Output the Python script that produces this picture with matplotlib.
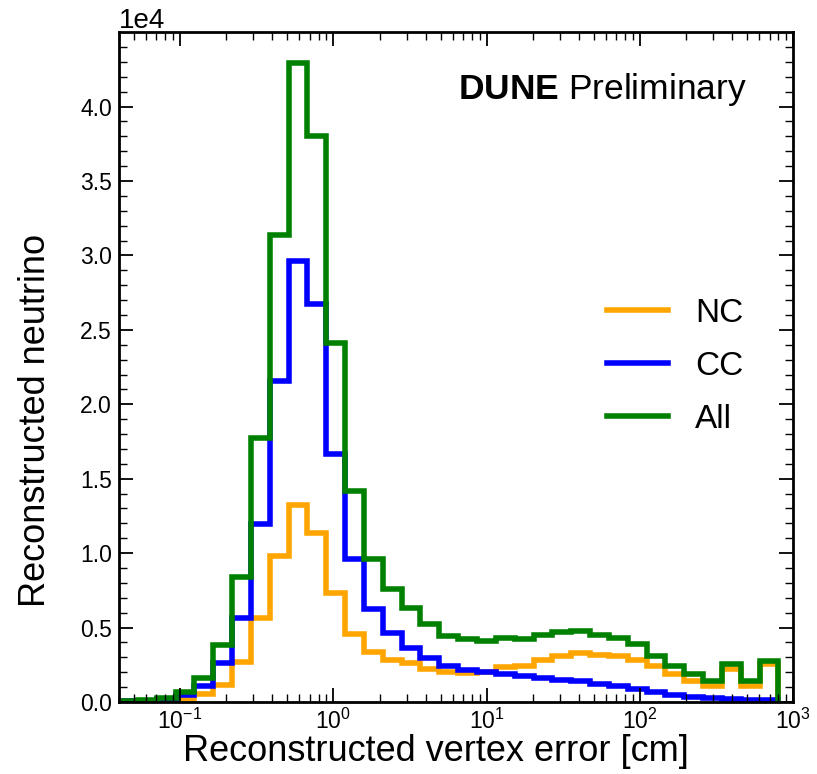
import numpy as np
import matplotlib
matplotlib.use("Agg")
import matplotlib.pyplot as plt
from matplotlib.ticker import AutoMinorLocator

# 35 log-spaced bins from 0.04 cm to 800 cm
bin_lo, bin_hi, n_bins = 0.04, 800.0, 35

# counts per bin, in units of 1e4
nc = [0.003, 0.004, 0.008, 0.02, 0.052, 0.115, 0.27, 0.567, 0.981, 1.326, 1.138, 0.735,
      0.459, 0.334, 0.282, 0.26, 0.22, 0.20, 0.198, 0.20, 0.232, 0.242, 0.285, 0.31,
      0.328, 0.318, 0.31, 0.282, 0.242, 0.19, 0.141, 0.11, 0.22, 0.108, 0.253]
cc = [0.004, 0.006, 0.018, 0.045, 0.107, 0.262, 0.567, 1.198, 2.157, 2.964, 2.673, 1.669,
      0.959, 0.628, 0.466, 0.365, 0.298, 0.242, 0.213, 0.204, 0.19, 0.175, 0.159, 0.15,
      0.138, 0.12, 0.105, 0.088, 0.068, 0.048, 0.035, 0.026, 0.02, 0.016, 0.012]
all_nu = [0.008, 0.012, 0.029, 0.069, 0.159, 0.381, 0.837, 1.772, 3.136, 4.29, 3.80, 2.415,
          1.42, 0.959, 0.757, 0.634, 0.522, 0.444, 0.421, 0.41, 0.432, 0.421, 0.45, 0.47,
          0.478, 0.452, 0.428, 0.388, 0.309, 0.242, 0.186, 0.141, 0.253, 0.141, 0.276]

series = [("NC", nc, "#FFA500"), ("CC", cc, "#0000FF"), ("All", all_nu, "#008000")]

plt.rcParams['font.family'] = ['Liberation Sans', 'DejaVu Sans']
plt.rcParams['mathtext.fontset'] = 'custom'
plt.rcParams['mathtext.rm'] = 'Liberation Sans'
plt.rcParams['mathtext.it'] = 'Liberation Sans:italic'
plt.rcParams['mathtext.bf'] = 'Liberation Sans:bold'
plt.rcParams['axes.linewidth'] = 2.0

edges = np.logspace(np.log10(bin_lo), np.log10(bin_hi), n_bins + 1)

fig = plt.figure(figsize=(8.17, 7.74), dpi=100)
ax = fig.add_axes([0.1457, 0.0930, 0.9710 - 0.1457, 0.9583 - 0.0930])

for label, vals, col in series:
    ax.stairs(np.array(vals) * 1e4, edges, color=col, lw=4.0, label=label)

ax.set_xscale('log')
ax.set_xlim(0.04, 1000)
ax.set_ylim(0, 4.499e4)
ax.ticklabel_format(style='sci', axis='y', scilimits=(0, 0))
ax.yaxis.get_offset_text().set_fontsize(20)
ax.yaxis.set_minor_locator(AutoMinorLocator(5))

ax.tick_params(which='both', direction='in', top=True, right=True)
ax.tick_params(which='major', length=10, width=1.3, labelsize=16.5)
ax.tick_params(which='minor', length=5.5, width=1.0)
ax.tick_params(axis='y', which='major', pad=5)
ax.tick_params(axis='x', which='major', pad=5)

ax.set_xlabel("Reconstructed vertex error [cm]", fontsize=26)
ax.xaxis.label.set_va('baseline')
ax.xaxis.set_label_coords(0.47, -0.0885)
ax.set_ylabel("Reconstructed neutrino", fontsize=26)
ax.yaxis.label.set_va('baseline')
ax.yaxis.set_label_coords(-0.1098, 0.421)

ax.text(0.931, 0.90, r"$\mathbf{DUNE}$ Preliminary", transform=ax.transAxes,
        ha='right', va='baseline', fontsize=25.5)

ax.legend(loc='center left', bbox_to_anchor=(0.7242, 0.5012), frameon=False,
          fontsize=24, handlelength=1.83, handletextpad=0.8, labelspacing=0.665,
          borderpad=0, borderaxespad=0)

fig.savefig("out.png", dpi=100)
